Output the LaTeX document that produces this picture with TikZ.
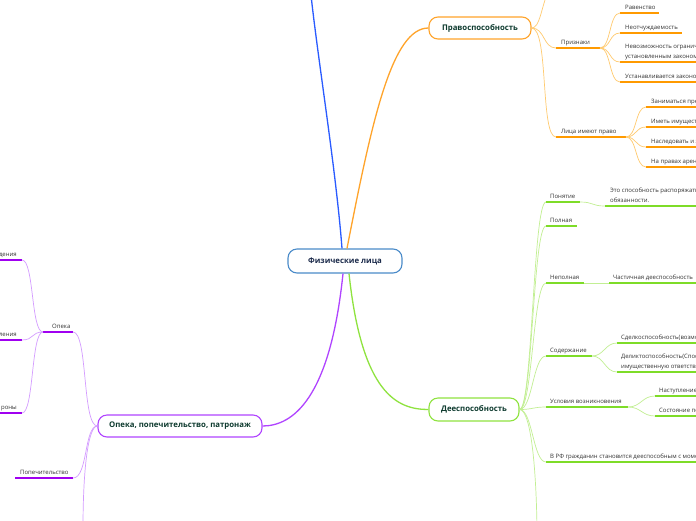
\documentclass[tikz,border=0pt]{standalone}
\usepackage{fontspec}
\setmainfont{Open Sans}
\definecolor{cBlue}{HTML}{4A8BC9}
\definecolor{lBlue}{HTML}{2A5BFF}
\definecolor{bOrange}{HTML}{FFA42B}
\definecolor{lOrange}{HTML}{FFCB70}
\definecolor{ulO}{HTML}{FF9A00}
\definecolor{bGreen}{HTML}{8FE33F}
\definecolor{lGreen}{HTML}{C2EF93}
\definecolor{ulG}{HTML}{7EDC28}
\definecolor{bPurple}{HTML}{B044FF}
\definecolor{lPurple}{HTML}{D49CFF}
\definecolor{ulP}{HTML}{A000F0}
\definecolor{boxtext}{HTML}{0D3A2E}
\definecolor{centtext}{HTML}{1C2B4B}
\definecolor{leaftext}{HTML}{333333}
\newcommand{\mmleaf}[7]{%
  \coordinate (#1-l) at (#2,#4);
  \coordinate (#1-r) at (#3,#4);
  \draw[uline,#6] (#1-l) -- (#1-r);
  \node[leaf] (#1) at ([xshift=#7pt,yshift=2pt]#1-l) {#5};}
\newcommand{\mmleafR}[6]{%
  \coordinate (#1-l) at (#2,#4);
  \coordinate (#1-r) at (#3,#4);
  \draw[uline,#6] (#1-l) -- (#1-r);
  \node[leaf,anchor=south east] (#1) at ([xshift=-5pt,yshift=2pt]#1-r) {#5};}
\begin{document}
\begin{tikzpicture}[x=1pt,y=-1pt,
  mainbox/.style={draw, rounded corners=9pt, line width=1.1pt, fill=white,
    minimum height=22pt, inner sep=0pt, font=\fontsize{7.8}{10}\selectfont\bfseries, text=boxtext},
  leaf/.style={anchor=south west, inner sep=0pt, text depth=1.5pt,
    font=\fontsize{6}{9.5}\selectfont, text=leaftext, align=left},
  uline/.style={line width=1.8pt},
  mainconn/.style={line width=1.3pt},
  subconn/.style={line width=0.7pt},
]
\useasboundingbox (0,0) rectangle (696,520);
\clip (0,0) rectangle (696,520);
\fill[white] (0,0) rectangle (696,520);

% main boxes
\node[mainbox, draw=cBlue, minimum width=114pt, minimum height=24pt, text=centtext] (c) at (345,261) {Физические лица};
\node[mainbox, draw=bOrange, minimum width=102pt] (pravo) at (480,28) {Правоспособность};
\node[mainbox, draw=bGreen, minimum width=90pt, minimum height=23pt] (dees) at (474,409.5) {Дееспособность};
\node[mainbox, draw=bPurple, minimum width=164pt] (opk) at (180,426) {Опека, попечительство, патронаж};

% free ends
\coordinate (blueEnd) at (311,-5);
\coordinate (orTop) at (548,-8);
\coordinate (grDown) at (537,528);
\coordinate (puDown) at (83,528);

% main connectors
\draw[mainconn, lBlue] ([xshift=-3pt]c.north) .. controls (336,170) and (318,60) .. (blueEnd);
\draw[mainconn, bOrange] ([xshift=2pt]c.north) .. controls (372,120) and (392,28) .. (pravo.west);
\draw[mainconn, bGreen] ([xshift=4pt]c.south) .. controls (362,395) and (398,409.5) .. (dees.west);
\draw[mainconn, bPurple] ([xshift=-2pt]c.south) .. controls (330,400) and (292,426) .. (opk.east);

% ---- Правоспособность
\mmleaf{priz}{556}{600}{48}{Признаки}{ulO}{5}
\mmleaf{lica}{556}{626}{137}{Лица имеют право}{ulO}{5}
\mmleaf{ravn}{620}{659}{13}{Равенство}{ulO}{5}
\mmleaf{neot}{620}{682}{33}{Неотчуждаемость}{ulO}{5}
\mmleaf{nevoz}{620}{720}{62}{Невозможность ограничения\\установленным законом}{ulO}{5}
\mmleaf{ustan}{620}{720}{82}{Устанавливается законом}{ulO}{5}
\mmleaf{zan}{646}{720}{107}{Заниматься предпринимательством}{ulO}{5}
\mmleaf{imet}{646}{720}{127}{Иметь имущество}{ulO}{5}
\mmleaf{nasl}{646}{720}{147}{Наследовать и завещать}{ulO}{5}
\mmleaf{arend}{646}{720}{167}{На правах аренды}{ulO}{5}

\draw[subconn, lOrange] (pravo.east) .. controls (540,28) and (541,8) .. (orTop);
\draw[subconn, lOrange] (pravo.east) .. controls (545,28) and (543,48) .. (priz-l);
\draw[subconn, lOrange] (pravo.east) .. controls (549,28) and (540,137) .. (lica-l);
\foreach \t in {ravn,neot,nevoz,ustan}
  \draw[subconn, lOrange] (priz-r) .. controls +(11,0) and +(-11,0) .. (\t-l);
\foreach \t in {zan,imet,nasl,arend}
  \draw[subconn, lOrange] (lica-r) .. controls +(11,0) and +(-11,0) .. (\t-l);

% ---- Дееспособность
\mmleaf{pon}{546}{580}{202}{Понятие}{ulG}{4}
\mmleaf{ponch}{605}{720}{206}{Это способность распоряжаться своими правами и\\обязанности.}{ulG}{5}
\mmleaf{poln}{546}{577}{226}{Полная}{ulG}{4}
\mmleaf{nepoln}{546}{584}{283}{Неполная}{ulG}{4}
\mmleaf{chast}{609}{720}{283}{Частичная дееспособность}{ulG}{4}
\mmleaf{sod}{546}{592}{356}{Содержание}{ulG}{4}
\mmleaf{sdel}{617}{720}{343}{Сделкоспособность(возможность)}{ulG}{4}
\mmleaf{delikt}{617}{720}{372}{Деликтоспособность(Способность нести\\имущественную ответственность)}{ulG}{4}
\mmleaf{usl}{546}{628}{407}{Условия возникновения}{ulG}{4}
\mmleaf{nast}{655}{720}{396}{Наступление возраста}{ulG}{4}
\mmleaf{sost}{655}{720}{416}{Состояние психического здоровья}{ulG}{4}
\mmleaf{vrf}{546}{720}{462}{В РФ гражданин становится дееспособным с момента совершеннолетия}{ulG}{4}

\foreach \t in {pon,poln,nepoln,sod,usl,vrf}
  \draw[subconn, lGreen] (dees.east) .. controls +(13,0) and +(-13,0) .. (\t-l);
\draw[subconn, lGreen] (dees.east) .. controls (530,409.5) and (536,460) .. (grDown);
\draw[subconn, lGreen] (pon-r) .. controls (594,202) and (591,206) .. (ponch-l);
\draw[subconn, lGreen] (nepoln-r) -- (chast-l);
\foreach \t in {sdel,delikt}
  \draw[subconn, lGreen] (sod-r) .. controls +(12,0) and +(-12,0) .. (\t-l);
\foreach \t in {nast,sost}
  \draw[subconn, lGreen] (usl-r) .. controls +(13,0) and +(-13,0) .. (\t-l);

% ---- Опека
\mmleaf{opeka}{43}{73}{332}{Опека}{ulP}{9}
\mmleaf{popech}{15}{73}{478}{Попечительство}{ulP}{5}
\mmleafR{d1}{-10}{22}{260}{дения}{ulP}
\mmleafR{d2}{-10}{22}{340}{мления}{ulP}
\mmleafR{d3}{-10}{22}{413}{роны}{ulP}

\draw[subconn, lPurple] (opeka-r) .. controls (88,332) and (82,426) .. (opk.west);
\draw[subconn, lPurple] (popech-r) .. controls (88,478) and (84,426) .. (opk.west);
\draw[subconn, lPurple] (opk.west) .. controls (88,426) and (83,470) .. (puDown);
\foreach \t in {d1,d2,d3}
  \draw[subconn, lPurple] (opeka-l) .. controls +(-12,0) and +(12,0) .. (\t-r);
\end{tikzpicture}
\end{document}
